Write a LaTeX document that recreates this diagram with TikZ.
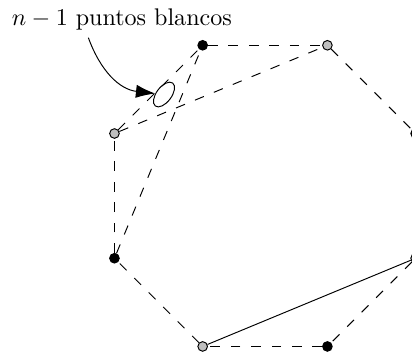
\documentclass[tikz,border=0pt]{standalone}
\usetikzlibrary{arrows.meta,shapes.geometric}
\begin{document}
\begin{tikzpicture}[
    point/.style={circle, draw, inner sep=0pt, minimum size=4pt},
    black point/.style={point, fill=black},
    white point/.style={point, fill=black!25},
    edge/.style={dash pattern=on 4pt off 4.5pt},
    blob/.style={ellipse, draw, inner sep=0pt, minimum width=0.42cm, minimum height=0.22cm, rotate=53},
    every node/.style={font=\normalsize}
  ]
  \useasboundingbox (-3.87,-2.336) rectangle (2.146,2.86);

  % Octagon points
  \node[black point] (P-1) at (112.5:2.38) {};
  \node[white point] (P-2) at (67.5:2.38) {};
  \node[black point] (P-3) at (22.5:2.38) {};
  \node[white point] (P-4) at (-22.5:2.38) {};
  \node[black point] (P-5) at (-67.5:2.38) {};
  \node[white point] (P-6) at (-112.5:2.38) {};
  \node[black point] (P-7) at (-157.5:2.38) {};
  \node[white point] (P-8) at (157.5:2.38) {};

  % White points region and label
  \node[blob] (W) at (-1.475,1.48) {};
  \node (label) at (-2.09,2.57) {$n-1$ puntos blancos};
  \coordinate (from) at (-2.58,2.31);

  % Connections
  \foreach \a/\b in {1/2,2/3,4/5,5/6,6/7,7/8,8/1,8/2,7/1}
    \draw[edge] (P-\a) -- (P-\b);
  \draw (P-6) -- (P-4);

  \draw[-{Latex[length=8pt,width=5.5pt]}] (from) to[out=-70,in=160] (W);

\end{tikzpicture}
\end{document}
